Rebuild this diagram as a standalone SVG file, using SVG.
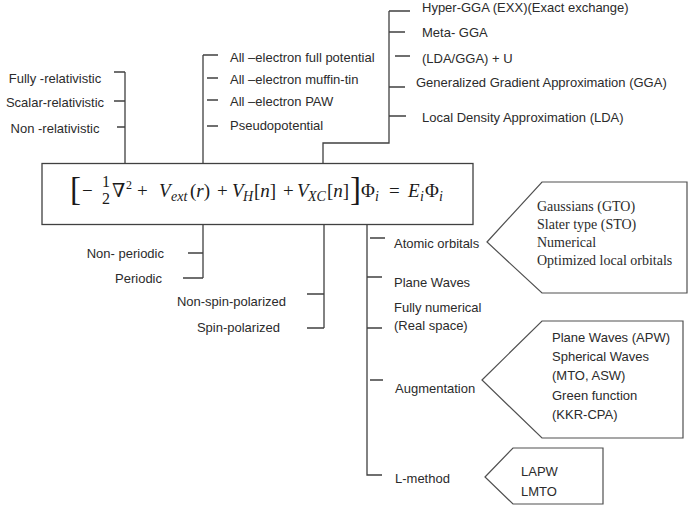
<svg xmlns="http://www.w3.org/2000/svg" width="693" height="516" viewBox="0 0 693 516">
<style>
.t{font-family:"Liberation Sans",Arial,sans-serif;font-size:13px;fill:#2b2b2b}
.s{font-family:"Liberation Serif","Times New Roman",serif;font-size:14px;fill:#2b2b2b}
.m{font-family:"Liberation Serif","DejaVu Serif",serif;font-size:19px;fill:#1a1a1a}
.mi{font-style:italic}
.sub{font-size:14px}
.frac{font-size:16px}
.sup{font-size:12px}
.big{font-size:33px}
.ln{stroke:#404040;stroke-width:1.3;fill:none}
.shape{stroke:#505050;stroke-width:1.2;fill:#ffffff}
.end{text-anchor:end}
.mid{text-anchor:middle}
</style>
<rect width="693" height="516" fill="#ffffff"/>

<g id="connectors" class="ln">
  <path d="M125,72V163.5 M114,72H125 M114,101H125 M117,127H125"/>
  <path d="M203,55V163.5 M203,55H218 M207,78H218 M207,100H218 M207,126H218"/>
  <path d="M323,163.5V143H389V11 M389,11H410 M389,32H405 M395,56H410 M389,87H405 M389,116H406"/>
  <path d="M203,224.5V278 M188,253H203 M183,278H203"/>
  <path d="M324,224.5V328 M307,294H324 M307,328H324"/>
  <path d="M367,224.5V475H382 M370,238H385 M367,277H382 M367,328H382 M370,380H383"/>
</g>

<g id="equation">
  <rect class="ln" x="42" y="163.5" width="431" height="61" stroke="#505050"/>
  <text class="m big" x="70" y="200">[</text>
  <text class="m" x="82" y="197">−</text>
  <text class="m frac" x="102" y="187">1</text>
  <text class="m frac" x="102" y="204">2</text>
  <text class="m" x="112" y="197">∇</text>
  <text class="m sup" x="126" y="189">2</text>
  <text class="m" x="137" y="197">+</text>
  <text class="m mi" x="159" y="197">V</text>
  <text class="m mi sub" x="171" y="201">ext</text>
  <text class="m" x="190" y="197">(<tspan class="mi">r</tspan>)</text>
  <text class="m" x="217" y="197">+</text>
  <text class="m mi" x="232" y="197">V</text>
  <text class="m mi sub" x="243" y="201">H</text>
  <text class="m" x="254" y="197">[<tspan class="mi">n</tspan>]</text>
  <text class="m" x="283" y="197">+</text>
  <text class="m mi" x="297" y="197">V</text>
  <text class="m mi sub" x="308" y="201">XC</text>
  <text class="m" x="327" y="197">[<tspan class="mi">n</tspan>]</text>
  <text class="m big" x="350" y="200">]</text>
  <text class="m" x="361" y="197">Φ</text>
  <text class="m mi sub" x="375" y="201">i</text>
  <text class="m" x="389" y="197">=</text>
  <text class="m mi" x="408" y="197">E</text>
  <text class="m mi sub" x="420" y="201">i</text>
  <text class="m" x="425" y="197">Φ</text>
  <text class="m mi sub" x="439" y="201">i</text>
</g>

<g id="relativistic">
  <text class="t mid" x="55" y="82.5">Fully -relativistic</text>
  <text class="t mid" x="55" y="106.5">Scalar-relativistic</text>
  <text class="t mid" x="55" y="132.5">Non -relativistic</text>
</g>

<g id="potential">
  <text class="t" x="230" y="61.5">All –electron full potential</text>
  <text class="t" x="230" y="83.5">All –electron muffin-tin</text>
  <text class="t" x="230" y="105.5">All –electron PAW</text>
  <text class="t" x="230" y="129.5">Pseudopotential</text>
</g>

<g id="xc">
  <text class="t" x="422" y="11.5">Hyper-GGA (EXX)(Exact exchange)</text>
  <text class="t" x="422" y="36.5">Meta- GGA</text>
  <text class="t" x="422" y="62.5">(LDA/GGA) + U</text>
  <text class="t" x="416" y="86.5">Generalized Gradient Approximation (GGA)</text>
  <text class="t" x="422" y="121.5">Local Density Approximation (LDA)</text>
</g>

<g id="periodicity">
  <text class="t end" x="164" y="257.5">Non- periodic</text>
  <text class="t end" x="162" y="282.5">Periodic</text>
</g>

<g id="spin">
  <text class="t end" x="286" y="305.5">Non-spin-polarized</text>
  <text class="t end" x="280" y="331.5">Spin-polarized</text>
</g>

<g id="basis">
  <text class="t" x="394" y="247.5">Atomic orbitals</text>
  <text class="t" x="394" y="286.5">Plane Waves</text>
  <text class="t" x="394" y="311.5">Fully numerical</text>
  <text class="t" x="394" y="329.5">(Real space)</text>
  <text class="t" x="395" y="392.5">Augmentation</text>
  <text class="t" x="395" y="482.5">L-method</text>
</g>

<g id="atomic-orbitals-box">
  <polygon class="shape" points="487,242 542,182 687,182 687,293 542,293"/>
  <text class="s" x="537" y="211">Gaussians (GTO)</text>
  <text class="s" x="537" y="229">Slater type (STO)</text>
  <text class="s" x="537" y="247">Numerical</text>
  <text class="s" x="537" y="265">Optimized local orbitals</text>
</g>

<g id="augmentation-box">
  <polygon class="shape" points="482,380 542,321 683,321 683,438 542,438"/>
  <text class="t" x="552" y="341.5">Plane Waves (APW)</text>
  <text class="t" x="552" y="361">Spherical Waves</text>
  <text class="t" x="552" y="380">(MTO, ASW)</text>
  <text class="t" x="552" y="399.5">Green function</text>
  <text class="t" x="552" y="418.5">(KKR-CPA)</text>
</g>

<g id="l-method-box">
  <polygon class="shape" points="485,477 513,448 603,448 603,504 513,504"/>
  <text class="t" x="521" y="475.5">LAPW</text>
  <text class="t" x="521" y="495.5">LMTO</text>
</g>
</svg>
